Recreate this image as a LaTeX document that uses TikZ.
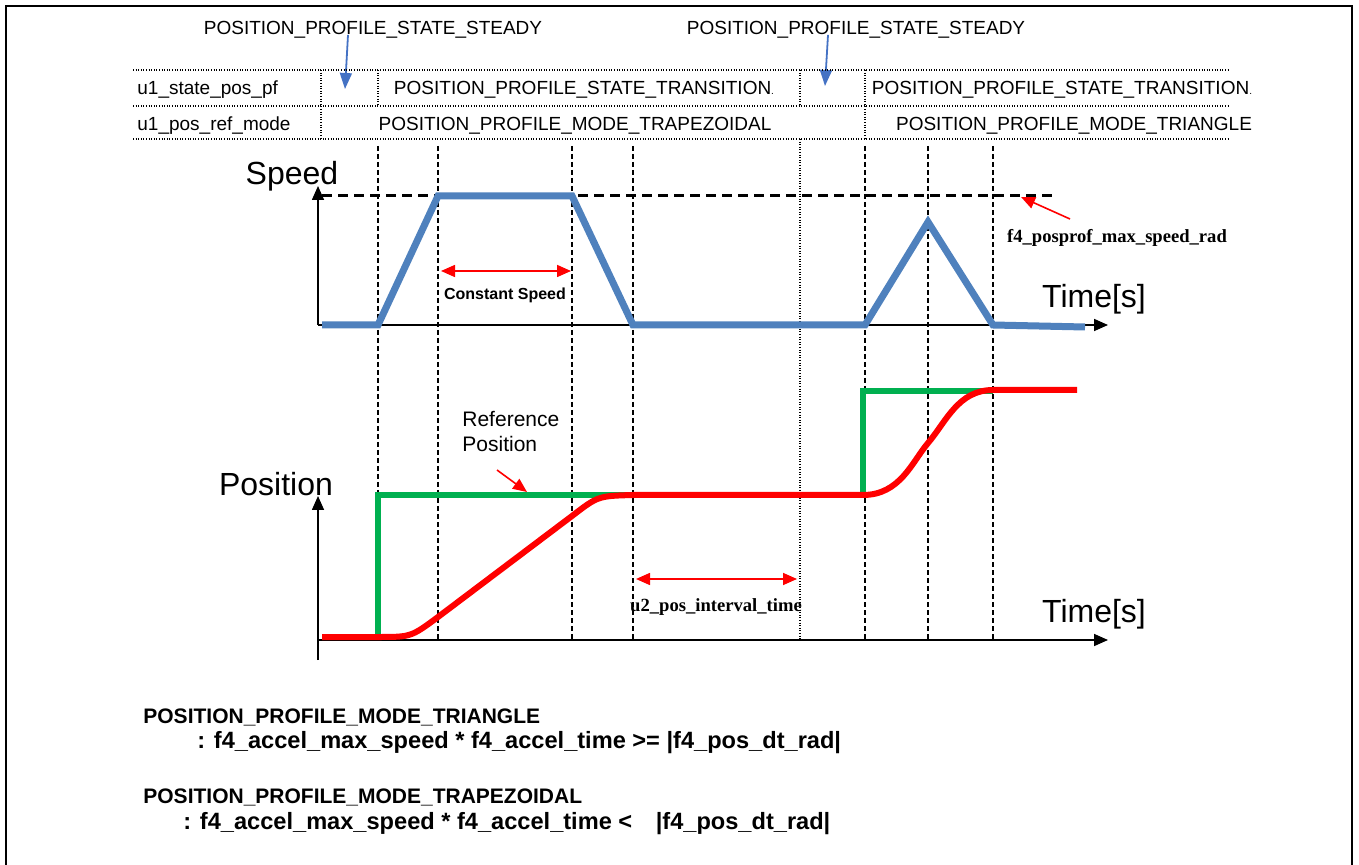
\documentclass[tikz,border=0pt]{standalone}
\usepackage{fontspec}
\setmainfont{Liberation Sans}
\newfontfamily\timesfont{Liberation Serif}
\usetikzlibrary{arrows.meta}
\definecolor{profblue}{RGB}{79,129,189}
\definecolor{refgreen}{RGB}{0,176,80}
\definecolor{arrowblue}{RGB}{68,114,196}
\begin{document}
\begin{tikzpicture}[x=0.5pt,y=-0.5pt,
	vline/.style={black, line width=.7pt, dash pattern=on 2.5pt off 1.5pt},
	tbl/.style={black, line width=.6pt, dash pattern=on .5pt off .8pt},
	axisarrow/.style={black, line width=.8pt, -{Triangle[width=6pt,length=7pt]}},
	redarrow/.style={red, line width=.8pt, -{Triangle[width=6pt,length=7pt]}},
	bluearrow/.style={arrowblue, line width=.9pt, -{Triangle[width=6pt,length=8pt]}},
	lbl/.style={font=\fontsize{9.5}{11}\selectfont, inner sep=0pt},
	big/.style={font=\fontsize{16}{18}\selectfont, inner sep=0pt},
	tlbl/.style={font=\timesfont\bfseries\fontsize{9.3}{11}\selectfont, inner sep=0pt},
	head/.style={font=\bfseries\fontsize{10.5}{12}\selectfont, inner sep=0pt, anchor=west},
	cond/.style={font=\bfseries\fontsize{11.8}{14}\selectfont, inner sep=0pt, anchor=west}]
	
	\useasboundingbox (0,0) rectangle (1359,865);
	\draw[line width=1pt] (6,865) -- (6,6) -- (1352,6) -- (1352,865);
	
	\node[lbl] (steady1) at (373,30) {POSITION\_PROFILE\_STATE\_STEADY};
	\node[lbl] (steady2) at (856,30) {POSITION\_PROFILE\_STATE\_STEADY};
	\coordinate (tip1) at (345,89);
	\coordinate (tip2) at (825,86);
	\draw[bluearrow] ([xshift=-12.5pt,yshift=2pt]steady1.south) -- (tip1);
	\draw[bluearrow] ([xshift=-14pt,yshift=2pt]steady2.south) -- (tip2);
	
	\draw[tbl] (133,70) -- (1230,70);
	\draw[tbl] (133,106) -- (1230,106);
	\draw[tbl] (133,139) -- (1230,139);
	\draw[tbl] (321,70) -- (321,139);
	\draw[tbl] (378,70) -- (378,106);
	\draw[tbl] (800,70) -- (800,106);
	\draw[tbl] (865,70) -- (865,139);
	\draw[tbl] (800,139) -- (800,640);
	
	\node[lbl, anchor=west] (state) at (137,90) {u1\_state\_pos\_pf};
	\node[lbl] (trans1) at (584,90) {POSITION\_PROFILE\_STATE\_TRANSITION{\tiny .}};
	\node[lbl] (trans2) at (1062,90) {POSITION\_PROFILE\_STATE\_TRANSITION{\tiny .}};
	\node[lbl, anchor=west] (mode) at (137,126) {u1\_pos\_ref\_mode};
	\node[lbl] (trap) at (575,126) {POSITION\_PROFILE\_MODE\_TRAPEZOIDAL};
	\node[lbl] (tri) at (1074,126) {POSITION\_PROFILE\_MODE\_TRIANGLE};
	
	\foreach \x in {378,438,572,633,865,928,993}
		\draw[vline] (\x,146) -- (\x,640);
	
	\coordinate (so) at (318,325);
	\coordinate (sy) at (318,186);
	\coordinate (sx) at (1108,325);
	\draw[axisarrow] (so) -- (sy);
	\draw[axisarrow] (so) -- (sx);
	\node[big] (speed) at (292,176) {Speed};
	\node[big] (time1) at (1094,299) {Time[s]};
	
	\coordinate (m0) at (322,196);
	\coordinate (m1) at (1055,196);
	\draw[black, line width=1.5pt, dash pattern=on 5pt off 3pt] (m0) -- (m1);
	
	\coordinate (v0) at (322,325);
	\coordinate (v1) at (378,325);
	\coordinate (v2) at (438,196);
	\coordinate (v3) at (572,196);
	\coordinate (v4) at (633,325);
	\coordinate (v5) at (865,325);
	\coordinate (v6) at (928,222);
	\coordinate (v7) at (993,325);
	\coordinate (v8) at (1085,327);
	\draw[profblue, line width=3.5pt] (v0) -- (v1) -- (v2) -- (v3) -- (v4) -- (v5) -- (v6) -- (v7) -- (v8);
	
	\coordinate (c0) at (441,271);
	\coordinate (c1) at (571,271);
	\draw[redarrow, {Triangle[width=6pt,length=7pt]}-{Triangle[width=6pt,length=7pt]}] (c0) -- (c1);
	\node[font=\bfseries\fontsize{8}{10}\selectfont, inner sep=0pt] (cs) at (505,295) {Constant Speed};
	
	\node[tlbl] (maxlbl) at (1117,238) {f4\_posprof\_max\_speed\_rad};
	\coordinate (mtail) at (1070,219);
	\coordinate (mtip) at (1021,197);
	\draw[redarrow] (mtail) -- (mtip);
	
	\coordinate (pb) at (318,660);
	\coordinate (py) at (318,496);
	\coordinate (px0) at (318,640);
	\coordinate (px) at (1108,640);
	\draw[axisarrow] (pb) -- (py);
	\draw[axisarrow] (px0) -- (px);
	\node[big] (pos) at (276,484) {Position};
	\node[big] (time2) at (1094,614) {Time[s]};
	
	\coordinate (g0) at (378,639);
	\coordinate (g1) at (378,495);
	\coordinate (g2) at (633,495);
	\coordinate (g3) at (863,495);
	\coordinate (g4) at (863,391);
	\coordinate (g5) at (993,391);
	\draw[refgreen, line width=3pt] (g0) -- (g1) -- (g2);
	\draw[refgreen, line width=3pt] (g3) -- (g4) -- (g5);
	
	\coordinate (r0) at (322,637);
	\coordinate (r1) at (378,637);
	\coordinate (r2) at (438,617);
	\coordinate (r3) at (572,516);
	\coordinate (r4) at (633,495);
	\coordinate (r5) at (863,495);
	\coordinate (r6) at (928,443);
	\coordinate (r7) at (993,390);
	\coordinate (r8) at (1077,390);
	\draw[red, line width=3pt] (r0) -- (r1) .. controls (411,637) .. (r2) -- (r3)
		.. controls (598,496) .. (r4) -- (r5) .. controls (900,495) and (912,462) .. (r6)
		.. controls (946,422) and (958,390) .. (r7) -- (r8);
	
	\node[font=\fontsize{10.5}{12.5}\selectfont, inner sep=0pt, anchor=west, align=left] (reflbl) at (462,432) {Reference\\Position};
	\coordinate (rtail) at (497,470);
	\coordinate (rtip) at (527,492);
	\draw[redarrow] (rtail) -- (rtip);
	
	\coordinate (i0) at (636,579);
	\coordinate (i1) at (797,579);
	\draw[redarrow, {Triangle[width=6pt,length=7pt]}-{Triangle[width=6pt,length=7pt]}] (i0) -- (i1);
	\node[tlbl] (ilbl) at (716,607) {u2\_pos\_interval\_time};
	
	\node[head] (trihead) at (143,717) {POSITION\_PROFILE\_MODE\_TRIANGLE};
	\node[cond] (tricond) at (197,743) {: f4\_accel\_max\_speed * f4\_accel\_time >= |f4\_pos\_dt\_rad|};
	\node[head] (traphead) at (143,797) {POSITION\_PROFILE\_MODE\_TRAPEZOIDAL};
	\node[cond] (trapcond) at (183,824) {: f4\_accel\_max\_speed * f4\_accel\_time <\hspace{1em}|f4\_pos\_dt\_rad|};
\end{tikzpicture}
\end{document}
